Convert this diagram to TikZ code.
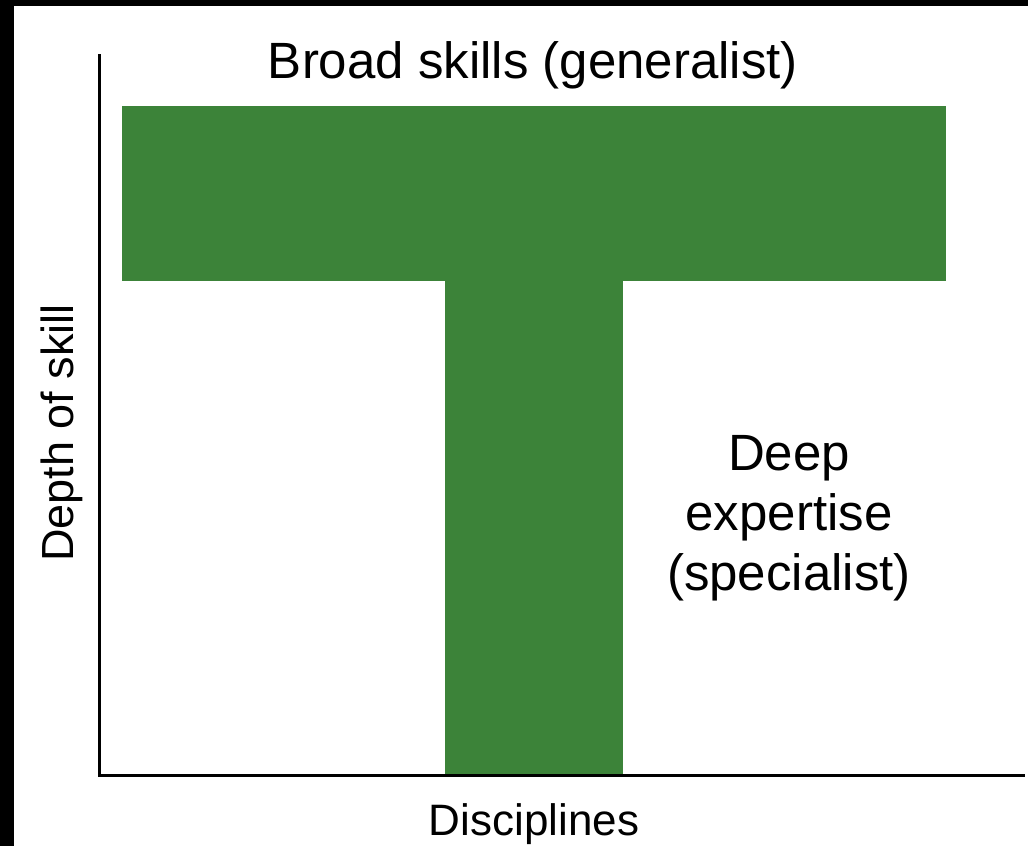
\documentclass[tikz,border=0pt]{standalone}
\usepackage{fontspec}
\setmainfont{Liberation Sans}
\definecolor{tgreen}{RGB}{60,131,57}
\tikzset{
  bar/.style={fill=tgreen, draw=none},
  axis/.style={line width=1.5pt, line cap=rect},
  lbl/.style={inner sep=0pt, text=black}
}
\begin{document}
\begin{tikzpicture}[x=0.5pt, y=-0.5pt]
    \useasboundingbox (0,0) rectangle (1028,846);
    % screenshot edges
    \fill[black] (0,0) rectangle (1028,6);
    \fill[black] (0,0) rectangle (14,846);

    % 1. Define Coordinates
    \coordinate (O) at (99, 775);   % origin
    \coordinate (Y) at (99, 55);    % top of depth axis
    \coordinate (X) at (1023, 775); % end of disciplines axis

    % 2. Draw the T
    \fill[bar] (122,106) rectangle (946,281); % broad bar
    \fill[bar] (445,280) rectangle (623,775); % deep stem

    % 3. Draw the Axes
    \draw[axis] (Y) -- (O) -- (X);

    % 4. Labels
    \node[lbl, anchor=base, font=\fontsize{25.5}{30}\selectfont] (broad) at (533,78) {Broad skills (generalist)};
    \node[lbl, align=center, font=\fontsize{25.5}{30}\selectfont] (deep) at (789,518) {Deep\\expertise\\(specialist)};
    \node[lbl, anchor=base, font=\fontsize{22}{26}\selectfont] (disc) at (534,835) {Disciplines};
    \node[lbl, rotate=90, font=\fontsize{22.5}{27}\selectfont] (depth) at (62,433) {Depth of skill};
\end{tikzpicture}
\end{document}
